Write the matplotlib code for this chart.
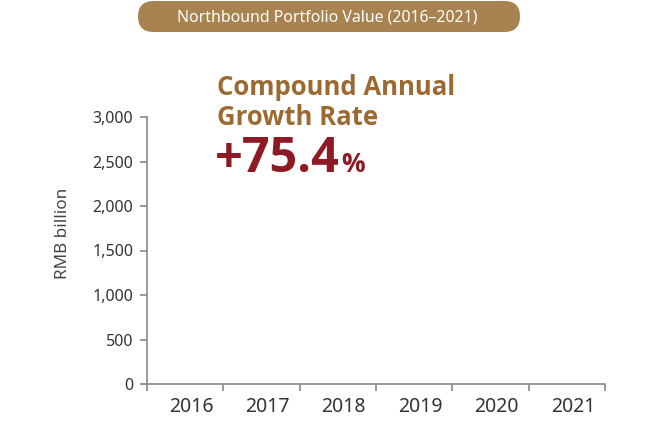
import matplotlib
matplotlib.use("Agg")
import matplotlib.pyplot as plt
import matplotlib.transforms as mtransforms
from matplotlib.patches import FancyBboxPatch

years = ["2016", "2017", "2018", "2019", "2020", "2021"]
values = [0, 0, 0, 0, 0, 0]
yticks = [0, 500, 1000, 1500, 2000, 2500, 3000]
ytick_labels = ["0", "500", "1,000", "1,500", "2,000", "2,500", "3,000"]
title = "Northbound Portfolio Value (2016\u20132021)"
heading_lines = ["Compound Annual", "Growth Rate"]
cagr_num = "+75.4"
cagr_pct = "%"
ylabel = "RMB billion"

W, H = 660, 430
plt.rcParams['font.family'] = ['Noto Sans', 'DejaVu Sans']
fig = plt.figure(figsize=(W / 100, H / 100), dpi=100)

bg = fig.add_axes([0, 0, 1, 1])
bg.set_xlim(0, W)
bg.set_ylim(H, 0)
bg.axis('off')
pill = FancyBboxPatch((138, 1), 382, 31, boxstyle="round,pad=0,rounding_size=15.5",
                      facecolor="#a9834f", edgecolor="none")
bg.add_patch(pill)
bg.text(327, 17, title, color="white", fontsize=11.4, ha="center", va="center")

left, right, top, bottom = 147, 605, 117, 384
ax = fig.add_axes([left / W, 1 - bottom / H, (right - left) / W, (bottom - top) / H])
ax.set_zorder(2)
ax.patch.set_alpha(0)
x = list(range(len(years)))
ax.bar(x, values, width=0.6, color="#a9834f", linewidth=0)
ax.set_xlim(-0.5, len(years) - 0.5)
ax.set_ylim(0, 3000)
ax.set_yticks(yticks)
ax.set_yticklabels(ytick_labels)
ax.set_xticks(x)
ax.set_xticklabels(years)
ax.set_xticks([i - 0.5 for i in range(len(years) + 1)], minor=True)
for s in ["top", "right"]:
    ax.spines[s].set_visible(False)
for s in ["left", "bottom"]:
    ax.spines[s].set_color("#888888")
    ax.spines[s].set_linewidth(1.2)
ax.tick_params(axis='x', which='major', length=0, pad=9, labelsize=14, labelcolor="#333333")
ax.tick_params(axis='x', which='minor', length=5, width=1.2, color="#888888", direction='out')
ax.tick_params(axis='y', length=5, width=1.2, color="#888888", pad=5, labelsize=11.5, labelcolor="#333333")
offset = mtransforms.ScaledTranslation(6 / 100, 0, fig.dpi_scale_trans)
for lbl in ax.get_xticklabels():
    lbl.set_transform(lbl.get_transform() + offset)
ax.set_ylabel(ylabel, fontsize=12.3, color="#444444", labelpad=12)
ax.yaxis.set_label_coords(-0.166, (bottom - 233) / (bottom - top))

hfont = ['Open Sans', 'Lato', 'DejaVu Sans']
bg.text(217, 95, heading_lines[0], color="#9c6a31", fontsize=18.5, fontweight="bold",
        family=hfont, ha="left", va="baseline")
bg.text(217, 125, heading_lines[1], color="#9c6a31", fontsize=18.5, fontweight="bold",
        family=hfont, ha="left", va="baseline")
t = bg.text(215, 172, cagr_num, color="#8e1b24", fontsize=35, fontweight="bold",
            family=hfont, ha="left", va="baseline")
fig.canvas.draw()
bb = t.get_window_extent()
bg.text(bb.x1 + 1, 172, cagr_pct, color="#8e1b24", fontsize=19, fontweight="bold",
        family=hfont, ha="left", va="baseline")

fig.savefig("out.png", dpi=100)
